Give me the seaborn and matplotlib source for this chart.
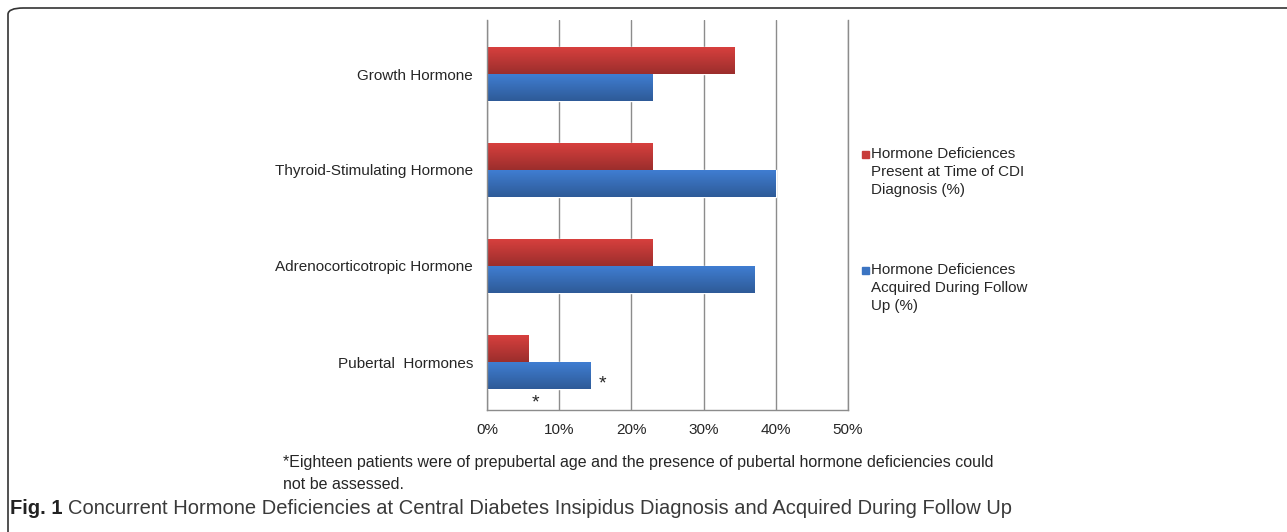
import seaborn as sns
import matplotlib.pyplot as plt
import pandas as pd
import numpy as np
from matplotlib.patches import FancyBboxPatch

categories = ['Growth Hormone', 'Thyroid-Stimulating Hormone',
              'Adrenocorticotropic Hormone', 'Pubertal  Hormones']
present_at_dx = [34.3, 22.9, 22.9, 5.7]
acquired_follow_up = [22.9, 40.0, 37.1, 14.3]
series = ['Hormone Deficiences\nPresent at Time of CDI\nDiagnosis (%)',
          'Hormone Deficiences\nAcquired During Follow\nUp (%)']
x_ticks = [0, 10, 20, 30, 40, 50]

df = pd.DataFrame({
    'category': categories * 2,
    'value': present_at_dx + acquired_follow_up,
    'series': [series[0]] * 4 + [series[1]] * 4,
})

sns.set_style('white')
plt.rcParams['font.family'] = ['Liberation Sans', 'DejaVu Sans']

fig = plt.figure(figsize=(12.87, 5.32), dpi=100)
ax = fig.add_axes([487 / 1287, 1 - 410 / 532, 361 / 1287, 390 / 532])

colors = ['#c73b39', '#3b74c2']
sns.barplot(data=df, y='category', x='value', hue='series', orient='h',
            palette=colors, width=0.5625, saturation=1, ax=ax, legend=False)

# vertical gradient on each bar (lighter on top, darker at the bottom)
grad = np.linspace(0, 1, 64).reshape(-1, 1)
for patch, base in zip(ax.patches, [colors[0]] * 4 + [colors[1]] * 4):
    x0, y0 = patch.get_x(), patch.get_y()
    w, h = patch.get_width(), patch.get_height()
    rgb = np.array(plt.matplotlib.colors.to_rgb(base))
    top = np.clip(rgb * 1.08, 0, 1)
    bot = rgb * 0.78
    img = top + (bot - top) * grad[:, :, None] * np.ones((1, 2, 1))
    im = ax.imshow(img, extent=[x0, x0 + w, y0 + h, y0], aspect='auto',
                   zorder=patch.get_zorder() + 0.1, interpolation='bilinear')
    im.set_clip_path(patch)

ax.set_xlim(0, 50)
ax.set_ylim(3.5, -0.5625)
ax.set_xticks(x_ticks)
ax.set_xticklabels([f'{t}%' for t in x_ticks], fontsize=11)
ax.tick_params(axis='y', labelsize=11, length=0, pad=10)
ax.tick_params(axis='x', length=0, pad=9)
ax.set_xlabel('')
ax.set_ylabel('')
ax.grid(axis='x', color='#8c8c8c', linewidth=1)
ax.set_axisbelow(True)
ax.spines['top'].set_visible(False)
for s in ['left', 'bottom', 'right']:
    ax.spines[s].set_color('#8c8c8c')
    ax.spines[s].set_linewidth(1)

# asterisks
ax.text(16.0, 3.23, '*', fontsize=14, ha='center', va='center')
ax.text(6.7, 3.43, '*', fontsize=14, ha='center', va='center')

# legend
for i, (lab, c) in enumerate(zip(series, colors)):
    ytop = 1 - (147 + i * 116) / 532
    fig.patches.append(plt.Rectangle((862 / 1287, ytop - 11 / 532), 7 / 1287, 7 / 532,
                                     transform=fig.transFigure, color=c))
    fig.text(871 / 1287, ytop, lab, fontsize=10.9, va='top', ha='left',
             linespacing=1.38)

# footnote and caption
fig.text(283 / 1287, 1 - 455 / 532,
         '*Eighteen patients were of prepubertal age and the presence of pubertal hormone deficiencies could\nnot be assessed.',
         fontsize=11.5, va='top', ha='left', linespacing=1.6)
fig.canvas.draw()
t1 = fig.text(10 / 1287, 1 - 508 / 532, 'Fig. 1', fontsize=14.5, fontweight='bold',
              va='center', ha='left', color='#222222')
bb = t1.get_window_extent(renderer=fig.canvas.get_renderer())
fig.text((bb.x1 + 6) / 1287, 1 - 508 / 532,
         'Concurrent Hormone Deficiencies at Central Diabetes Insipidus Diagnosis and Acquired During Follow Up',
         fontsize=14.5, va='center', ha='left', color='#3a3a3a')

# rounded frame around the figure
frame = FancyBboxPatch((8 / 1287, -0.05), 1.05, 1.05 - 8 / 532,
                       boxstyle='round,pad=0,rounding_size=0.012',
                       transform=fig.transFigure, facecolor='none',
                       edgecolor='#333333', linewidth=1.2)
fig.patches.append(frame)

fig.savefig('out.png', dpi=100)
